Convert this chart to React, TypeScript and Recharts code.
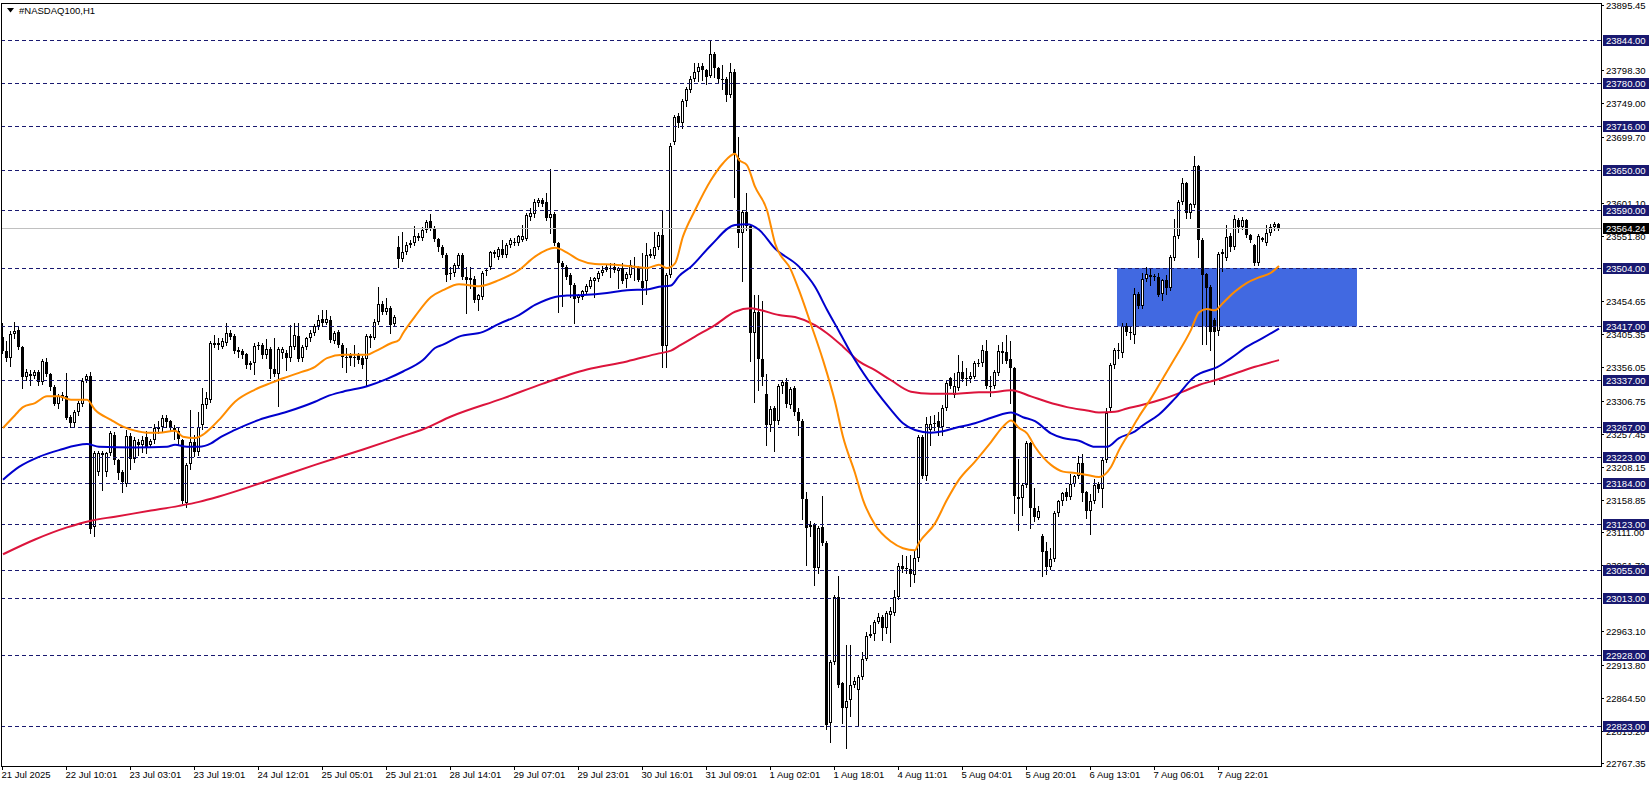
import React from 'react';
import { ComposedChart, Bar, Line, XAxis, YAxis, ReferenceLine, ReferenceArea } from 'recharts';

// #NASDAQ100 H1, one row per hourly bar: [open, high, low, close]
const candles: [number, number, number, number][] = [
  [23402, 23422, 23378, 23380], [23380, 23395, 23365, 23370], [23370, 23410, 23358, 23406], [23406, 23423, 23400, 23410],
  [23412, 23418, 23384, 23386], [23386, 23388, 23325, 23342], [23342, 23354, 23338, 23350], [23344, 23352, 23330, 23347],
  [23343, 23352, 23340, 23350], [23350, 23352, 23330, 23334], [23334, 23368, 23332, 23365], [23364, 23370, 23343, 23346],
  [23346, 23348, 23322, 23327], [23327, 23330, 23300, 23302], [23302, 23316, 23296, 23313], [23311, 23320, 23308, 23315],
  [23313, 23348, 23280, 23281], [23282, 23285, 23268, 23274], [23274, 23292, 23268, 23289], [23289, 23306, 23286, 23303],
  [23302, 23340, 23298, 23336], [23338, 23346, 23334, 23343], [23343, 23350, 23110, 23115], [23118, 23232, 23105, 23228],
  [23201, 23231, 23196, 23228], [23228, 23232, 23174, 23225], [23200, 23230, 23195, 23228], [23228, 23262, 23225, 23258],
  [23256, 23260, 23212, 23218], [23218, 23220, 23190, 23199], [23200, 23203, 23170, 23185], [23183, 23263, 23180, 23254],
  [23254, 23258, 23205, 23220], [23220, 23252, 23215, 23248], [23245, 23250, 23225, 23240], [23240, 23254, 23230, 23248],
  [23252, 23262, 23228, 23236], [23240, 23250, 23238, 23246], [23248, 23272, 23244, 23266], [23265, 23276, 23258, 23268],
  [23268, 23286, 23262, 23281], [23281, 23286, 23268, 23275], [23276, 23278, 23262, 23266], [23266, 23270, 23250, 23262],
  [23262, 23268, 23240, 23250], [23248, 23250, 23154, 23158], [23155, 23214, 23149, 23211], [23212, 23293, 23205, 23245],
  [23245, 23255, 23224, 23230], [23230, 23290, 23226, 23268], [23270, 23326, 23265, 23302], [23300, 23320, 23296, 23310],
  [23308, 23396, 23305, 23393], [23393, 23404, 23386, 23390], [23390, 23400, 23383, 23393], [23387, 23400, 23385, 23395],
  [23393, 23422, 23390, 23408], [23408, 23412, 23398, 23402], [23403, 23406, 23378, 23380], [23382, 23386, 23372, 23379],
  [23381, 23384, 23370, 23374], [23376, 23378, 23355, 23359], [23359, 23366, 23354, 23362], [23362, 23392, 23347, 23388],
  [23388, 23394, 23383, 23390], [23390, 23393, 23370, 23374], [23374, 23398, 23370, 23384], [23383, 23386, 23340, 23353],
  [23353, 23400, 23344, 23347], [23347, 23386, 23298, 23383], [23377, 23386, 23370, 23383], [23378, 23382, 23352, 23370],
  [23370, 23419, 23366, 23388], [23386, 23422, 23383, 23404], [23403, 23422, 23366, 23368], [23370, 23390, 23366, 23387],
  [23387, 23402, 23384, 23400], [23400, 23412, 23396, 23407], [23407, 23420, 23404, 23417], [23417, 23434, 23414, 23427],
  [23428, 23442, 23418, 23422], [23422, 23442, 23420, 23428], [23427, 23432, 23394, 23397], [23396, 23410, 23392, 23408],
  [23409, 23412, 23386, 23390], [23390, 23392, 23357, 23372], [23372, 23385, 23350, 23371], [23375, 23378, 23360, 23370],
  [23372, 23390, 23358, 23370], [23374, 23378, 23362, 23367], [23370, 23373, 23355, 23360], [23368, 23406, 23330, 23403],
  [23403, 23406, 23387, 23400], [23400, 23428, 23398, 23424], [23424, 23476, 23420, 23451], [23451, 23455, 23436, 23439],
  [23439, 23459, 23436, 23444], [23444, 23447, 23407, 23419], [23421, 23434, 23418, 23431], [23535, 23551, 23505, 23517],
  [23517, 23557, 23514, 23528], [23528, 23542, 23525, 23538], [23538, 23545, 23535, 23541], [23541, 23566, 23538, 23551],
  [23551, 23556, 23546, 23549], [23548, 23565, 23545, 23561], [23561, 23576, 23558, 23573], [23574, 23584, 23560, 23563],
  [23563, 23566, 23544, 23547], [23547, 23549, 23530, 23535], [23535, 23538, 23520, 23523], [23523, 23526, 23484, 23494],
  [23495, 23506, 23488, 23497], [23496, 23512, 23492, 23509], [23507, 23526, 23504, 23523], [23523, 23526, 23488, 23490],
  [23491, 23506, 23437, 23486], [23486, 23506, 23474, 23489], [23488, 23492, 23454, 23457], [23457, 23466, 23442, 23464],
  [23461, 23500, 23458, 23497], [23499, 23504, 23494, 23501], [23506, 23530, 23503, 23528], [23525, 23531, 23520, 23528],
  [23521, 23536, 23518, 23533], [23533, 23546, 23520, 23523], [23523, 23541, 23520, 23538], [23538, 23549, 23536, 23546],
  [23541, 23548, 23538, 23543], [23541, 23553, 23538, 23551], [23546, 23568, 23544, 23552], [23547, 23586, 23545, 23583],
  [23580, 23593, 23576, 23586], [23584, 23606, 23580, 23603], [23601, 23608, 23597, 23605], [23605, 23608, 23596, 23600],
  [23603, 23615, 23575, 23578], [23578, 23651, 23556, 23584], [23584, 23587, 23538, 23541], [23541, 23543, 23438, 23511],
  [23511, 23514, 23447, 23506], [23506, 23508, 23488, 23491], [23494, 23496, 23461, 23479], [23479, 23481, 23422, 23458],
  [23459, 23466, 23454, 23464], [23461, 23472, 23458, 23470], [23469, 23480, 23466, 23477], [23476, 23491, 23474, 23486],
  [23484, 23491, 23461, 23489], [23487, 23499, 23485, 23496], [23496, 23507, 23494, 23501], [23501, 23508, 23499, 23505],
  [23504, 23511, 23491, 23503], [23505, 23511, 23498, 23501], [23499, 23506, 23474, 23504], [23504, 23511, 23482, 23485],
  [23487, 23498, 23476, 23495], [23494, 23516, 23490, 23509], [23507, 23521, 23486, 23506], [23504, 23507, 23484, 23486],
  [23485, 23526, 23451, 23474], [23485, 23541, 23466, 23523], [23522, 23533, 23520, 23525], [23522, 23558, 23519, 23535],
  [23535, 23558, 23532, 23553], [23553, 23590, 23357, 23388], [23388, 23496, 23357, 23494], [23494, 23690, 23490, 23685],
  [23691, 23732, 23688, 23729], [23730, 23734, 23714, 23720], [23720, 23755, 23712, 23753], [23753, 23774, 23745, 23771],
  [23769, 23790, 23766, 23786], [23786, 23809, 23783, 23795], [23795, 23809, 23783, 23803], [23805, 23809, 23784, 23798],
  [23798, 23800, 23778, 23788], [23790, 23844, 23788, 23823], [23823, 23826, 23789, 23801], [23801, 23803, 23779, 23785],
  [23785, 23806, 23771, 23786], [23786, 23788, 23752, 23762], [23762, 23809, 23758, 23795], [23796, 23800, 23610, 23675],
  [23668, 23699, 23536, 23556], [23556, 23590, 23484, 23587], [23588, 23616, 23560, 23566], [23566, 23570, 23365, 23407],
  [23407, 23464, 23305, 23438], [23438, 23464, 23323, 23368], [23368, 23455, 23330, 23342], [23317, 23347, 23241, 23270],
  [23270, 23298, 23262, 23294], [23295, 23298, 23231, 23276], [23276, 23331, 23272, 23328], [23328, 23338, 23318, 23335],
  [23335, 23340, 23297, 23302], [23300, 23327, 23296, 23324], [23325, 23328, 23285, 23290], [23290, 23295, 23256, 23276],
  [23276, 23279, 23130, 23160], [23160, 23171, 23062, 23117], [23122, 23128, 23105, 23118], [23122, 23124, 23033, 23057],
  [23057, 23120, 23050, 23117], [23118, 23164, 23092, 23095], [23095, 23098, 22818, 22824], [22827, 22920, 22799, 22918],
  [22918, 23018, 22915, 23015], [23015, 23045, 22880, 22884], [22886, 22888, 22827, 22849], [22849, 22943, 22789, 22859],
  [22861, 22943, 22837, 22884], [22884, 22895, 22880, 22889], [22876, 22899, 22822, 22896], [22896, 22932, 22893, 22922],
  [22922, 22963, 22920, 22957], [22957, 22973, 22955, 22960], [22960, 22980, 22951, 22977], [22977, 22990, 22975, 22985],
  [22985, 22988, 22951, 22968], [22968, 22993, 22961, 22990], [22988, 23000, 22947, 22993], [22991, 23025, 22988, 23015],
  [23015, 23065, 23012, 23061], [23061, 23077, 23051, 23056], [23057, 23076, 23050, 23058], [23056, 23077, 23031, 23049],
  [23047, 23083, 23036, 23072], [23072, 23256, 23068, 23253], [23253, 23256, 23192, 23195], [23195, 23282, 23188, 23272],
  [23263, 23284, 23241, 23272], [23273, 23286, 23263, 23274], [23276, 23290, 23255, 23267], [23267, 23300, 23255, 23295],
  [23295, 23338, 23292, 23333], [23340, 23342, 23326, 23329], [23315, 23348, 23312, 23329], [23325, 23375, 23322, 23350],
  [23350, 23365, 23336, 23339], [23340, 23355, 23330, 23341], [23339, 23350, 23334, 23344], [23342, 23366, 23340, 23362],
  [23362, 23368, 23358, 23363], [23362, 23390, 23358, 23382], [23381, 23397, 23325, 23328], [23329, 23343, 23313, 23327],
  [23328, 23352, 23325, 23350], [23348, 23390, 23345, 23380], [23380, 23394, 23362, 23378], [23379, 23404, 23362, 23366],
  [23368, 23396, 23303, 23355], [23355, 23357, 23139, 23164], [23163, 23220, 23114, 23160], [23162, 23184, 23137, 23181],
  [23181, 23246, 23178, 23243], [23243, 23245, 23117, 23147], [23147, 23176, 23128, 23134], [23132, 23150, 23130, 23142],
  [23105, 23108, 23045, 23082], [23083, 23097, 23049, 23059], [23059, 23087, 23056, 23071], [23071, 23142, 23068, 23139],
  [23139, 23159, 23135, 23157], [23157, 23171, 23152, 23169], [23170, 23176, 23159, 23163], [23163, 23198, 23160, 23183],
  [23183, 23196, 23179, 23195], [23195, 23224, 23192, 23214], [23214, 23227, 23157, 23169], [23170, 23172, 23132, 23143],
  [23143, 23168, 23108, 23157], [23157, 23190, 23154, 23181], [23183, 23186, 23170, 23175], [23175, 23222, 23149, 23219],
  [23219, 23296, 23216, 23288], [23295, 23362, 23290, 23360], [23360, 23385, 23355, 23382], [23381, 23392, 23370, 23382],
  [23378, 23422, 23372, 23418], [23417, 23422, 23405, 23409], [23409, 23416, 23398, 23409], [23404, 23475, 23392, 23465],
  [23465, 23468, 23445, 23448], [23448, 23496, 23445, 23487], [23487, 23505, 23485, 23495], [23494, 23503, 23478, 23490],
  [23492, 23495, 23486, 23490], [23491, 23496, 23462, 23464], [23465, 23488, 23457, 23486], [23486, 23493, 23465, 23474],
  [23474, 23524, 23472, 23520], [23519, 23577, 23516, 23551], [23551, 23605, 23548, 23603], [23603, 23638, 23600, 23630],
  [23630, 23632, 23578, 23586], [23586, 23601, 23578, 23599], [23598, 23671, 23595, 23656], [23656, 23658, 23520, 23546],
  [23546, 23548, 23391, 23494], [23495, 23497, 23391, 23475], [23476, 23478, 23382, 23409], [23427, 23430, 23332, 23409],
  [23411, 23528, 23405, 23525], [23525, 23532, 23500, 23528], [23519, 23568, 23516, 23550], [23551, 23556, 23530, 23535],
  [23536, 23583, 23532, 23577], [23576, 23578, 23558, 23565], [23565, 23580, 23562, 23575], [23575, 23577, 23550, 23553],
  [23553, 23555, 23542, 23545], [23538, 23540, 23508, 23511], [23511, 23555, 23509, 23552], [23546, 23550, 23544, 23548],
  [23541, 23568, 23538, 23556], [23556, 23570, 23553, 23565], [23565, 23573, 23560, 23570], [23570, 23571, 23560, 23564.24],
];

// moving averages: [bar, value]
const fastMa: [number, number][] = [
  [0, 23266], [3, 23285], [5, 23297], [8, 23303], [11, 23313], [14, 23313], [17, 23308], [21, 23308], [23, 23293],
  [27, 23278], [30, 23268], [33, 23262], [36, 23259], [39, 23259], [43, 23262], [45, 23253], [48, 23251], [50, 23256],
  [52, 23266], [54, 23278], [58, 23305], [63, 23323], [67, 23333], [70, 23340], [74, 23348], [78, 23357], [81, 23370],
  [85, 23375], [91, 23375], [93, 23380], [97, 23392], [99, 23397], [100, 23407], [103, 23432], [107, 23461], [110, 23471],
  [114, 23480], [119, 23477], [124, 23486], [129, 23501], [133, 23521], [138, 23534], [141, 23527], [144, 23516],
  [148, 23510], [153, 23509], [158, 23506], [161, 23504], [164, 23509], [166, 23504], [168, 23511], [170, 23551],
  [173, 23590], [177, 23635], [180, 23660], [183, 23674], [184, 23665], [186, 23657], [188, 23625], [191, 23590],
  [193, 23541], [197, 23501], [199, 23471], [202, 23420], [205, 23367], [208, 23305], [210, 23253], [213, 23199],
  [215, 23159], [218, 23122], [222, 23097], [225, 23087], [228, 23084], [229, 23095], [233, 23124], [236, 23159],
  [239, 23189], [243, 23216], [247, 23245], [250, 23268], [252, 23277], [254, 23266], [256, 23258], [258, 23238],
  [262, 23211], [265, 23201], [268, 23199], [271, 23196], [274, 23193], [277, 23208], [279, 23233], [282, 23263],
  [284, 23283], [287, 23310], [290, 23340], [293, 23370], [297, 23412], [299, 23438], [301, 23443], [303, 23441],
  [305, 23452], [308, 23469], [311, 23482], [314, 23490], [317, 23497], [319, 23507],
];
const midMa: [number, number][] = [
  [0, 23189], [4, 23208], [9, 23223], [14, 23233], [21, 23242], [24, 23238], [33, 23237], [41, 23238], [43, 23241],
  [46, 23238], [49, 23238], [52, 23243], [54, 23251], [58, 23263], [64, 23278], [71, 23290], [78, 23305], [81, 23313],
  [85, 23320], [91, 23328], [96, 23339], [100, 23350], [105, 23367], [108, 23385], [110, 23390], [114, 23402],
  [120, 23409], [124, 23421], [129, 23434], [133, 23449], [138, 23461], [141, 23463], [145, 23464], [151, 23467],
  [156, 23471], [161, 23472], [164, 23476], [167, 23478], [169, 23492], [172, 23506], [177, 23538], [183, 23568],
  [186, 23569], [189, 23561], [193, 23533], [199, 23506], [203, 23476], [206, 23442], [209, 23410], [213, 23367],
  [218, 23323], [222, 23293], [225, 23273], [228, 23263], [232, 23259], [235, 23261], [238, 23266], [243, 23273],
  [246, 23279], [248, 23283], [252, 23289], [255, 23282], [258, 23276], [262, 23258], [265, 23251], [269, 23247],
  [273, 23238], [276, 23238], [279, 23251], [283, 23261], [285, 23270], [289, 23286], [293, 23310], [298, 23343],
  [302, 23353], [303, 23355], [307, 23370], [311, 23387], [315, 23400], [319, 23414],
];
const slowMa: [number, number][] = [
  [0, 23078], [8, 23100], [16, 23118], [22, 23128], [28, 23134], [37, 23143], [44, 23150], [49, 23156], [54, 23164],
  [66, 23187], [78, 23211], [90, 23234], [100, 23254], [105, 23264], [112, 23283], [125, 23310], [135, 23332],
  [146, 23353], [156, 23365], [164, 23377], [167, 23381], [169, 23388], [173, 23402], [178, 23419], [183, 23439],
  [187, 23444], [189, 23442], [194, 23434], [198, 23431], [203, 23419], [206, 23407], [210, 23387], [214, 23365],
  [218, 23352], [222, 23337], [227, 23320], [232, 23317], [238, 23317], [244, 23319], [247, 23319], [252, 23322],
  [257, 23313], [261, 23305], [266, 23297], [271, 23292], [274, 23289], [278, 23290], [281, 23295], [284, 23299],
  [290, 23309], [295, 23320], [299, 23330], [303, 23337], [308, 23347], [313, 23357], [319, 23367],
];

const timeLabels = [
  '21 Jul 2025', '22 Jul 10:01', '23 Jul 03:01', '23 Jul 19:01', '24 Jul 12:01', '25 Jul 05:01', '25 Jul 21:01',
  '28 Jul 14:01', '29 Jul 07:01', '29 Jul 23:01', '30 Jul 16:01', '31 Jul 09:01', '1 Aug 02:01', '1 Aug 18:01',
  '4 Aug 11:01', '5 Aug 04:01', '5 Aug 20:01', '6 Aug 13:01', '7 Aug 06:01', '7 Aug 22:01',
];
const labelBars = [0, 16, 32, 48, 64, 80, 96, 112, 128, 144, 160, 176, 192, 208, 224, 240, 256, 272, 288, 304];

// price scale labels that stay (at least partly) visible next to the level boxes
const priceTicks = [
  23895.45, 23798.3, 23749.0, 23699.7, 23601.1, 23551.8, 23454.65, 23405.35, 23356.05, 23306.75, 23257.45,
  23208.15, 23158.85, 23111.0, 23061.7, 22963.1, 22913.8, 22864.5, 22815.2, 22767.35,
];
const levels = [23844, 23780, 23716, 23650, 23590, 23504, 23417, 23337, 23267, 23223, 23184, 23123, 23055, 23013, 22928, 22823];
const lastPrice = 23564.24;
const zoneBars = [279, 338];
const zonePrices = [23417, 23504];

const SLOTS = 400;
const FONT = "'Liberation Sans', Arial, sans-serif";
const NAVY = '#191970';

type Row = {
  i: number;
  range?: [number, number];
  o?: number; h?: number; l?: number; c?: number;
  fast?: number; mid?: number; slow?: number;
};

const rows: Row[] = Array.from({ length: SLOTS }, (_, i) => {
  const k = candles[i];
  return k ? { i, range: [k[2], k[1]], o: k[0], h: k[1], l: k[2], c: k[3] } : { i };
});
fastMa.forEach(([i, v]) => { rows[i].fast = v; });
midMa.forEach(([i, v]) => { rows[i].mid = v; });
slowMa.forEach(([i, v]) => { rows[i].slow = v; });

function Candle(props: any) {
  const { x, y, width, height, payload } = props;
  if (!payload || payload.c == null || !Number.isFinite(y) || !Number.isFinite(height)) return <g />;
  const { o, h, l, c } = payload;
  const top = Math.min(y, y + height);
  const k = h > l ? Math.abs(height) / (h - l) : 0;
  const py = (v: number) => Math.round(top + (h - v) * k);
  const cx = Math.round(x + width / 2) - 0.5;
  const bTop = py(Math.max(o, c));
  const bBot = py(Math.min(o, c));
  const bull = c >= o;
  return (
    <g>
      <line x1={cx} x2={cx} y1={py(h)} y2={py(l) + 1} stroke="#000" strokeWidth={1} />
      {bBot - bTop < 2 ? (
        <rect x={cx - 1.5} y={bTop} width={3} height={1} fill="#000" />
      ) : bull ? (
        <rect x={cx - 1} y={bTop + 0.5} width={2} height={bBot - bTop - 1} fill="#fff" stroke="#000" strokeWidth={1} />
      ) : (
        <rect x={cx - 1.5} y={bTop} width={3} height={bBot - bTop} fill="#000" />
      )}
    </g>
  );
}

// horizontal line snapped to a whole pixel row so it stays crisp
function crispLine(color: string, dash?: string) {
  return (p: any) => {
    const yy = Math.round(p.y1 ?? 0) + 0.5;
    return <line x1={p.x1} x2={p.x2} y1={yy} y2={yy} stroke={color} strokeWidth={1} strokeDasharray={dash} />;
  };
}

function TimeTick({ x, y, payload }: any) {
  const idx = labelBars.indexOf(payload.value);
  if (idx < 0) return null;
  const tx = Math.round(x) - 0.5;
  return (
    <g>
      <line x1={tx} x2={tx} y1={y} y2={y + 4} stroke="#000" />
      <text x={tx - 1} y={y + 12} fontSize={9.5} fontFamily={FONT} fill="#000" textAnchor="start">
        {timeLabels[idx]}
      </text>
    </g>
  );
}

function PriceTick({ x, y, payload }: any) {
  const v = payload.value as number;
  const ty = Math.round(y);
  const text = v.toFixed(2);
  if (levels.includes(v) || v === lastPrice) {
    return (
      <g>
        <rect x={x + 2} y={ty - 5} width={46} height={11} fill={v === lastPrice ? '#000' : NAVY} />
        <text x={x + 5} y={ty + 4} fontSize={9.5} fontFamily={FONT} fill="#fff">{text}</text>
      </g>
    );
  }
  return (
    <g>
      <line x1={x} x2={x + 3} y1={ty + 0.5} y2={ty + 0.5} stroke="#000" />
      <text x={x + 5} y={ty + 4} fontSize={9.5} fontFamily={FONT} fill="#000">{text}</text>
    </g>
  );
}

export default function App() {
  return (
    <div style={{ position: 'absolute', left: 0, top: 0, width: 1652, height: 787, background: '#fff', overflow: 'hidden' }}>
      <ComposedChart
        width={1652}
        height={787}
        data={rows}
        margin={{ top: 3, right: 0, bottom: 0, left: 1 }}
        barCategoryGap={0}
        barGap={0}
      >
        <XAxis
          dataKey="i"
          type="category"
          ticks={labelBars}
          interval={0}
          tick={<TimeTick />}
          tickLine={false}
          tickSize={0}
          tickMargin={0}
          axisLine={false}
          height={21}
        />
        <YAxis
          orientation="right"
          type="number"
          domain={[22762.89, 23898.43]}
          allowDataOverflow
          ticks={[...priceTicks, ...levels, lastPrice]}
          interval={0}
          tick={<PriceTick />}
          tickLine={false}
          tickSize={0}
          tickMargin={0}
          axisLine={false}
          width={51}
        />
        <ReferenceArea
          x1={zoneBars[0]}
          x2={zoneBars[1]}
          y1={zonePrices[0]}
          y2={zonePrices[1]}
          fill="#4169E1"
          fillOpacity={1}
          stroke="none"
        />
        {levels.map((v) => (
          <ReferenceLine key={v} y={v} stroke={NAVY} shape={crispLine(NAVY, '4 3')} />
        ))}
        <ReferenceLine y={lastPrice} stroke="#C0C0C0" shape={crispLine('#C0C0C0')} />
        <Bar dataKey="range" barSize={4} isAnimationActive={false} shape={(p: any) => <Candle {...p} />} />
        <Line dataKey="slow" type="monotone" stroke="#DC143C" strokeWidth={2} dot={false} activeDot={false} connectNulls isAnimationActive={false} />
        <Line dataKey="mid" type="monotone" stroke="#0000CD" strokeWidth={2} dot={false} activeDot={false} connectNulls isAnimationActive={false} />
        <Line dataKey="fast" type="monotone" stroke="#FF8C00" strokeWidth={2} dot={false} activeDot={false} connectNulls isAnimationActive={false} />
      </ComposedChart>
      <div
        style={{
          position: 'absolute', left: 1, top: 3, width: 1601, height: 764,
          border: '1px solid #000', boxSizing: 'border-box', pointerEvents: 'none',
        }}
      />
      <div style={{ position: 'absolute', left: 7, top: 5, display: 'flex', alignItems: 'center', fontFamily: FONT, fontSize: 9.5, color: '#000' }}>
        <svg width={7} height={5} style={{ marginRight: 5 }}>
          <polygon points="0,0 7,0 3.5,4.5" fill="#000" />
        </svg>
        #NASDAQ100,H1
      </div>
    </div>
  );
}
